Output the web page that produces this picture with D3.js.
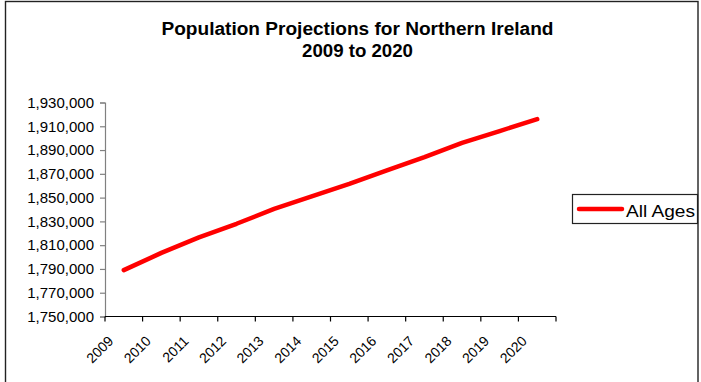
<!DOCTYPE html>
<html>
<head>
<meta charset="utf-8">
<script src="https://cdn.jsdelivr.net/npm/d3@7"></script>
<style>
  html, body { margin: 0; padding: 0; background: #fff; }
  svg { display: block; font-family: Arial, "Liberation Sans", sans-serif; }
</style>
</head>
<body>
<svg id="chart" width="701" height="382"></svg>
<script>
// Projected population, all ages
const years = ["2009", "2010", "2011", "2012", "2013", "2014", "2015", "2016", "2017", "2018", "2019", "2020"];
const allAges = [1789000, 1803500, 1816500, 1828000, 1840500, 1851000, 1861500, 1873000, 1884000, 1896000, 1906000, 1916000];
const yTicks = [1750000, 1770000, 1790000, 1810000, 1830000, 1850000, 1870000, 1890000, 1910000, 1930000];
const titleLines = ["Population Projections for Northern Ireland", "2009 to 2020"];
const seriesName = "All Ages";

const svg = d3.select("#chart");

// outer chart frame
svg.append("rect")
  .attr("x", 5.5).attr("y", 1.5)
  .attr("width", 692.5).attr("height", 420)
  .attr("fill", "#fff").attr("stroke", "#222").attr("stroke-width", 1.4);

const plot = { left: 105, right: 556, top: 102.5, bottom: 316.5 };

const xBand = d3.scaleBand().domain(years).range([plot.left, plot.right]).padding(0);
const xPoint = d3.scalePoint().domain(years).range([plot.left, plot.right]).padding(0.5);
const y = d3.scaleLinear().domain([1750000, 1930000]).range([plot.bottom, plot.top]);

// title
const title = svg.append("g").attr("font-weight", "bold").attr("font-size", 18)
  .attr("text-anchor", "middle").attr("fill", "#000");
title.append("text").attr("x", 357.5).attr("y", 35)
  .attr("textLength", 392).attr("lengthAdjust", "spacingAndGlyphs").text(titleLines[0]);
title.append("text").attr("x", 357.5).attr("y", 56.5)
  .attr("textLength", 111).attr("lengthAdjust", "spacingAndGlyphs").text(titleLines[1]);

// y axis
const yAxis = svg.append("g")
  .attr("transform", `translate(${plot.left},0)`)
  .call(d3.axisLeft(y).tickValues(yTicks).tickSize(5).tickPadding(6).tickFormat(d3.format(",")));
yAxis.select(".domain").attr("stroke", "#808080").attr("stroke-width", 1.2);
yAxis.selectAll(".tick line").attr("stroke", "#808080").attr("stroke-width", 1.2);
yAxis.selectAll(".tick text").attr("font-size", 15).attr("fill", "#000")
  .attr("font-family", "Arial, 'Liberation Sans', sans-serif");

// x axis: line plus ticks on category boundaries
const xAxis = svg.append("g");
xAxis.append("line")
  .attr("x1", plot.left).attr("x2", plot.right)
  .attr("y1", plot.bottom).attr("y2", plot.bottom)
  .attr("stroke", "#000").attr("stroke-width", 1.2);
const edges = years.map(d => xBand(d)).concat([xBand(years[years.length - 1]) + xBand.bandwidth()]);
xAxis.selectAll("line.tick").data(edges).join("line").attr("class", "tick")
  .attr("x1", d => d).attr("x2", d => d)
  .attr("y1", plot.bottom).attr("y2", plot.bottom + 5)
  .attr("stroke", "#000").attr("stroke-width", 1.2);
xAxis.selectAll("text").data(years).join("text")
  .attr("font-size", 14).attr("fill", "#000").attr("text-anchor", "end")
  .attr("x", d => xPoint(d) - 9.5).attr("y", 342)
  .attr("transform", d => `rotate(-45, ${xPoint(d) - 9.5}, 342)`)
  .text(d => d);

// series line
const line = d3.line().x((d, i) => xPoint(years[i])).y(d => y(d));
svg.append("path").datum(allAges)
  .attr("d", line)
  .attr("fill", "none").attr("stroke", "#ff0000")
  .attr("stroke-width", 4.5).attr("stroke-linejoin", "round").attr("stroke-linecap", "round");

// legend
const legend = svg.append("g");
legend.append("rect")
  .attr("x", 572.5).attr("y", 194.5).attr("width", 125).attr("height", 29)
  .attr("fill", "#fff").attr("stroke", "#222").attr("stroke-width", 1.2);
legend.append("line")
  .attr("x1", 579).attr("x2", 622).attr("y1", 209).attr("y2", 209)
  .attr("stroke", "#ff0000").attr("stroke-width", 4.5).attr("stroke-linecap", "round");
legend.append("text")
  .attr("x", 626).attr("y", 216.5).attr("font-size", 17).attr("fill", "#000")
  .attr("textLength", 69).attr("lengthAdjust", "spacingAndGlyphs")
  .text(seriesName);
</script>
</body>
</html>
